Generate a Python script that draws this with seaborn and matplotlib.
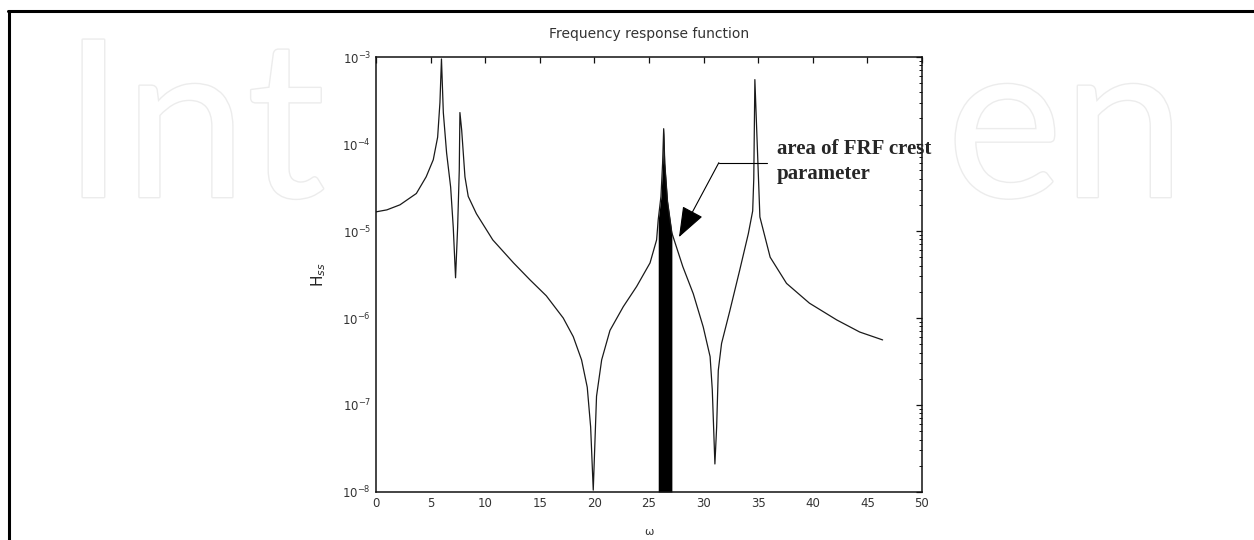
import numpy as np
import pandas as pd
import matplotlib
matplotlib.use('Agg')
import matplotlib.pyplot as plt
import matplotlib.patheffects as pe
from matplotlib.lines import Line2D
from matplotlib.ticker import LogLocator, MultipleLocator
import seaborn as sns

# Datos (omega, modulo de la FRF)
omega_low = [0, 1.0, 2.2, 3.7, 4.6, 5.25, 5.65, 5.86, 6.0, 6.17, 6.47, 6.84, 7.08, 7.29,
             7.48, 7.63, 7.69, 7.85, 8.15, 8.45, 9.2, 10.7]
h_low = [1.66e-5, 1.75e-5, 2.0e-5, 2.7e-5, 4.2e-5, 6.6e-5, 1.2e-4, 3.0e-4, 9.5e-4, 2.3e-4,
         7.9e-5, 3.2e-5, 1.1e-5, 2.9e-6, 1.1e-5, 5.0e-5, 2.3e-4, 1.45e-4, 4.2e-5, 2.5e-5,
         1.58e-5, 7.9e-6]

omega_mid = [12.6, 14.1, 15.6, 17.15, 18.07, 18.83, 19.35, 19.66, 19.9, 20.2, 20.67, 21.43,
             22.65, 23.87, 25.1, 25.7]
h_mid = [4.3e-6, 2.75e-6, 1.8e-6, 1.0e-6, 6.1e-7, 3.3e-7, 1.6e-7, 5.6e-8, 1.05e-8, 1.26e-7,
         3.3e-7, 7.2e-7, 1.35e-6, 2.3e-6, 4.3e-6, 7.9e-6]

omega_crest = [25.85, 26.1, 26.25, 26.35, 26.45, 26.7, 27.1]
h_crest = [1.35e-5, 2.5e-5, 6e-5, 1.5e-4, 6e-5, 2.2e-5, 9.5e-6]

omega_high = [28.1, 29.06, 29.97, 30.6, 30.8, 31.04, 31.2, 31.35, 31.65, 32.4, 33.3, 34.1,
              34.5, 34.6, 34.7, 35.16, 36.1, 37.6, 39.7, 42.2, 44.3, 46.4]
h_high = [3.9e-6, 1.9e-6, 7.9e-7, 3.6e-7, 1.5e-7, 2.1e-8, 5.6e-8, 2.5e-7, 5.1e-7, 1.2e-6,
          3.5e-6, 9.3e-6, 1.7e-5, 4e-5, 5.5e-4, 1.45e-5, 5.0e-6, 2.5e-6, 1.48e-6, 9.5e-7,
          6.9e-7, 5.6e-7]

crest_band = (25.85, 27.1)

df = pd.DataFrame({'omega': omega_low + omega_mid + omega_crest + omega_high,
                   'H': h_low + h_mid + h_crest + h_high})

sns.set_style('white')
plt.rcParams['font.family'] = ['DejaVu Sans']

fig = plt.figure(figsize=(12.54, 5.4), dpi=100)

# marca de agua
wm = dict(fontsize=158, color='white', family='Lato', va='center', zorder=0,
          path_effects=[pe.Stroke(linewidth=2, foreground='#ececec'), pe.Normal()])
fig.text(0.050, 0.75, 'Int', **wm)
fig.text(0.945, 0.75, 'en', ha='right', **wm)

ax = fig.add_axes([0.2998, 0.0889, 0.4354, 0.8055])
sns.lineplot(data=df, x='omega', y='H', ax=ax, color='#1a1a1a', linewidth=0.9,
             estimator=None, sort=False)
ax.set_yscale('log')
ax.set_xlim(0, 50)
ax.set_ylim(1e-8, 1e-3)

om = df['omega'].to_numpy()
mask = (om >= crest_band[0]) & (om <= crest_band[1])
ax.fill_between(om, 1e-8, df['H'].to_numpy(), where=mask, color='black', linewidth=0)

ax.xaxis.set_major_locator(MultipleLocator(5))
ax.yaxis.set_major_locator(LogLocator(base=10, numticks=10))
ax.yaxis.set_minor_locator(LogLocator(base=10, subs=np.arange(2, 10), numticks=10))
ax.tick_params(which='both', direction='in', top=True, right=True, colors='#111',
               labelcolor='#333', labelsize=8.5)
ax.tick_params(which='major', length=4, width=0.9)
ax.tick_params(which='minor', length=2, width=0.7)
for s in ax.spines.values():
    s.set_linewidth(1.1)
    s.set_color('#111')

ax.set_title('Frequency response function', fontsize=10, color='#333', pad=14)
ax.set_xlabel('ω', fontsize=8, color='#333', labelpad=12)
ax.set_ylabel('H$_{ss}$', fontsize=11, color='#222', labelpad=10)

# anotacion
ax.plot([31.4, 35.8], [6.1e-5, 6.1e-5], color='black', linewidth=0.8)
ax.annotate('', xy=(27.75, 8.5e-6), xytext=(31.4, 6.1e-5),
            arrowprops=dict(arrowstyle='-|>,head_length=1.6,head_width=0.6',
                            mutation_scale=12, color='black', lw=0.8, shrinkA=0, shrinkB=0))
ax.text(36.7, 6.3e-5, 'area of FRF crest\nparameter', family='Liberation Serif',
        fontweight='bold', fontsize=15, va='center', ha='left', linespacing=1.35)

# marco exterior
fig.add_artist(Line2D([0.0072, 0.0072], [0.0, 0.979], transform=fig.transFigure,
                      color='black', linewidth=2.2))
fig.add_artist(Line2D([0.0064, 1.0], [0.979, 0.979], transform=fig.transFigure,
                      color='black', linewidth=2.2))

plt.savefig('out.png', dpi=100)
plt.close()
